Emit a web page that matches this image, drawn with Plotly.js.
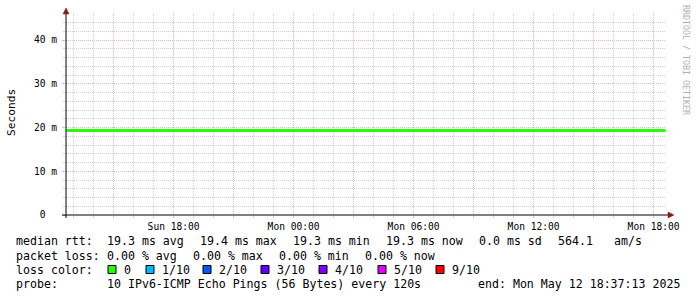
<!DOCTYPE html>
<html>
<head>
<meta charset="utf-8">
<script src="https://cdn.plot.ly/plotly-3.0.1.min.js"></script>
<style>html,body{margin:0;padding:0;background:#fff;}#chart{width:697px;height:297px;}</style>
</head>
<body>
<div id="chart"></div>
<script>
// ---- data ----
const times = [
  '2025-05-11 12:38:00','2025-05-11 13:30:00','2025-05-11 14:30:00','2025-05-11 15:30:00',
  '2025-05-11 16:30:00','2025-05-11 17:30:00','2025-05-11 18:30:00','2025-05-11 19:30:00',
  '2025-05-11 20:30:00','2025-05-11 21:30:00','2025-05-11 22:30:00','2025-05-11 23:30:00',
  '2025-05-12 00:30:00','2025-05-12 01:30:00','2025-05-12 02:30:00','2025-05-12 03:30:00',
  '2025-05-12 04:30:00','2025-05-12 05:30:00','2025-05-12 06:30:00','2025-05-12 07:30:00',
  '2025-05-12 08:30:00','2025-05-12 09:30:00','2025-05-12 10:30:00','2025-05-12 11:30:00',
  '2025-05-12 12:30:00','2025-05-12 13:30:00','2025-05-12 14:30:00','2025-05-12 15:30:00',
  '2025-05-12 16:30:00','2025-05-12 17:30:00','2025-05-12 18:36:00'
];
const medianRtt = [
  19.3,19.3,19.3,19.3,19.3,19.3,19.3,19.3,
  19.3,19.3,19.3,19.3,19.3,19.3,19.3,19.3,
  19.3,19.3,19.3,19.3,19.3,19.3,19.3,19.3,
  19.3,19.3,19.3,19.3,19.3,19.3,19.3
];
const xTickVals = ['2025-05-11 15:00','2025-05-11 18:00','2025-05-11 21:00','2025-05-12 00:00',
  '2025-05-12 03:00','2025-05-12 06:00','2025-05-12 09:00','2025-05-12 12:00',
  '2025-05-12 15:00','2025-05-12 18:00'];
const xTickText = ['','Sun 18:00','','Mon 00:00','','Mon 06:00','','Mon 12:00','','Mon 18:00'];
const yTickVals = [0,10,20,30,40];
const yTickText = ['0\u00a0\u00a0','10 m','20 m','30 m','40 m'];

const row1 = ['median rtt:','19.3 ms avg','19.4 ms max','19.3 ms min','19.3 ms now','0.0 ms sd','564.1','am/s'];
const row2 = ['packet loss:','0.00 % avg','0.00 % max','0.00 % min','0.00 % now'];
const lossLabels = ['0','1/10','2/10','3/10','4/10','5/10','9/10'];
const lossColors = ['#26ff00','#00b8ff','#0059ff','#5e00ff','#7e00ff','#dd00ff','#ff0000'];
const row4 = ['probe:','10 IPv6-ICMP Echo Pings (56 Bytes) every 120s','end: Mon May 12 18:37:13 2025'];

// ---- layout helpers (pixel -> paper) ----
const L = 66, T = 13, W = 600, H = 202;
const px = x => (x - L) / W;
const py = y => (T + H - y) / H;
const mono = 'DejaVu Sans Mono, monospace';

const annotations = [];
function txt(s, x, y, opts) {
  annotations.push(Object.assign({
    text: s.replace(/ /g, '\u00a0'), xref: 'paper', yref: 'paper', x: px(x), y: py(y),
    xanchor: 'left', yanchor: 'middle', showarrow: false, borderpad: 0,
    font: {family: mono, size: 11.6, color: '#000'}
  }, opts || {}));
}
const row1X = [15, 106, 199, 292, 385, 478, 557, 613];
row1.forEach((s, i) => txt(s, row1X[i], 241.5));
const row2X = [15, 106, 192, 278, 364];
row2.forEach((s, i) => txt(s, row2X[i], 255.5));
txt('loss color:', 15, 269.5);
const sqX = [108, 146, 203, 261, 319, 378, 436];
const shapes = [];
lossLabels.forEach((s, i) => {
  shapes.push({type: 'rect', xref: 'paper', yref: 'paper',
    x0: px(sqX[i]), x1: px(sqX[i] + 8), y0: py(273.5), y1: py(265.5),
    fillcolor: lossColors[i], line: {color: '#000', width: 1}, layer: 'above'});
  txt(s, sqX[i] + 15, 269.5);
});
const row4X = [15, 106, 477];
row4.forEach((s, i) => txt(s, row4X[i], 283.5));

// y title and watermark
annotations.push({text: 'Seconds', xref: 'paper', yref: 'paper', x: px(11), y: py(113),
  textangle: -90, showarrow: false, xanchor: 'center', yanchor: 'middle',
  font: {family: mono, size: 11.2, color: '#000'}});
annotations.push({text: 'RRDTOOL / TOBI OETIKER', xref: 'paper', yref: 'paper', x: px(686), y: py(60),
  textangle: 90, showarrow: false, xanchor: 'center', yanchor: 'middle',
  font: {family: mono, size: 8.3, color: '#b0b0b0'}});

// axis lines and arrows
shapes.push({type: 'line', xref: 'paper', yref: 'paper', x0: px(62), x1: px(669), y0: 0, y1: 0,
  line: {color: '#000', width: 1}, layer: 'above'});
shapes.push({type: 'line', xref: 'paper', yref: 'paper', x0: 0, x1: 0, y0: py(218), y1: py(12),
  line: {color: '#000', width: 1}, layer: 'above'});
shapes.push({type: 'path', xref: 'paper', yref: 'paper',
  path: `M ${px(668)} ${py(212)} L ${px(674)} ${py(215)} L ${px(668)} ${py(218)} Z`,
  fillcolor: '#8b1a1a', line: {color: '#8b1a1a', width: 0.5}, layer: 'above'});
shapes.push({type: 'path', xref: 'paper', yref: 'paper',
  path: `M ${px(63)} ${py(14)} L ${px(66)} ${py(8)} L ${px(69)} ${py(14)} Z`,
  fillcolor: '#8b1a1a', line: {color: '#8b1a1a', width: 0.5}, layer: 'above'});

const majorGrid = 'rgb(230,185,185)';
const minorGrid = 'rgb(208,208,208)';

const trace = {
  x: times, y: medianRtt, type: 'scatter', mode: 'lines',
  line: {color: '#26ff00', width: 3}, hoverinfo: 'skip'
};

const layout = {
  width: 697, height: 297,
  margin: {l: L, r: 697 - L - W, t: T, b: 297 - T - H, pad: 0},
  paper_bgcolor: '#fff', plot_bgcolor: '#fff',
  showlegend: false,
  xaxis: {
    type: 'date', range: ['2025-05-11 12:37:13', '2025-05-12 18:37:13'],
    tickmode: 'array', tickvals: xTickVals, ticktext: xTickText,
    showgrid: true, gridcolor: majorGrid, griddash: '1px,1px', gridwidth: 1,
    ticks: 'outside', ticklen: 2, tickcolor: majorGrid,
    tickfont: {family: mono, size: 9.6, color: '#000'},
    showline: false, zeroline: false, fixedrange: true,
    minor: {dtick: 3600000, tick0: '2025-05-11 00:00', showgrid: true, gridcolor: minorGrid,
      griddash: '1px,1px', gridwidth: 1, ticks: 'outside', ticklen: 2, tickcolor: minorGrid}
  },
  yaxis: {
    range: [0, H / 4.375],
    tickmode: 'array', tickvals: yTickVals, ticktext: yTickText,
    showgrid: true, gridcolor: majorGrid, griddash: '1px,1px', gridwidth: 1,
    ticks: 'outside', ticklen: 3, tickcolor: majorGrid, ticklabelstandoff: 3,
    tickfont: {family: mono, size: 9.6, color: '#000'},
    showline: false, zeroline: false, fixedrange: true,
    minor: {dtick: 2, tick0: 0, showgrid: true, gridcolor: minorGrid,
      griddash: '1px,1px', gridwidth: 1, ticks: 'outside', ticklen: 2, tickcolor: minorGrid}
  },
  shapes: shapes,
  annotations: annotations
};

Plotly.newPlot('chart', [trace], layout, {staticPlot: true, displayModeBar: false});
</script>
</body>
</html>
